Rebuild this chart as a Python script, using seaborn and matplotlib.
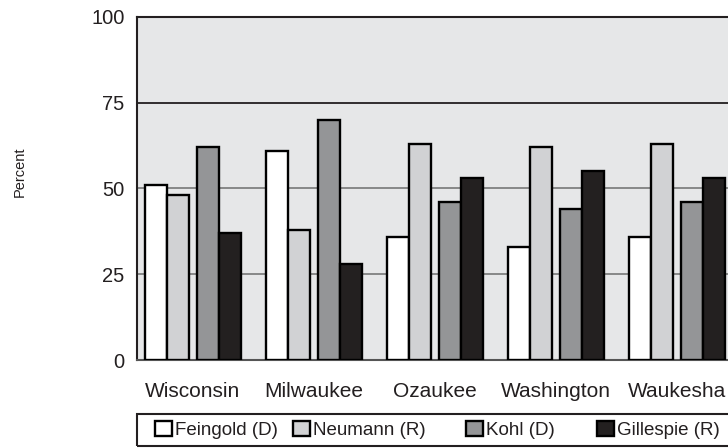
import seaborn as sns
import matplotlib.pyplot as plt
import pandas as pd
from matplotlib.patches import Rectangle

# values
counties = ["Wisconsin", "Milwaukee", "Ozaukee", "Washington", "Waukesha"]
candidates = ["Feingold (D)", "Neumann (R)", "Kohl (D)", "Gillespie (R)"]
feingold = [51, 61, 36, 33, 36]
neumann = [48, 38, 63, 62, 63]
kohl = [62, 70, 46, 44, 46]
gillespie = [37, 28, 53, 55, 53]
y_ticks = [0, 25, 50, 75, 100]

colors = {"Feingold (D)": "#ffffff", "Neumann (R)": "#d1d2d4",
          "Kohl (D)": "#939598", "Gillespie (R)": "#231f20"}

rows = []
for cand, vals in zip(candidates, [feingold, neumann, kohl, gillespie]):
    for county, v in zip(counties, vals):
        rows.append([county, cand, v])
df = pd.DataFrame(rows, columns=["County", "Candidate", "Percent"])

sns.set_style("white")
plt.rcParams["font.family"] = ["Liberation Sans", "DejaVu Sans"]

fig = plt.figure(figsize=(7.28, 4.48), dpi=100)
# axes runs a few pixels past the right edge, like the cropped original
ax = fig.add_axes([137 / 728, 88 / 448, 596 / 728, 343 / 448])
ax.set_facecolor("#e6e7e8")

sns.barplot(data=df, x="County", y="Percent", hue="Candidate",
            order=counties, hue_order=candidates, palette=colors,
            width=0.727, edgecolor="black", linewidth=1.7, legend=False,
            ax=ax, zorder=3)

# split each group into two pairs with a small gap
for i, cont in enumerate(ax.containers):
    shift = -0.033 if i < 2 else 0.033
    for bar in cont:
        bar.set_x(bar.get_x() + shift)

ax.set_xlim(-0.463, 4.463)
ax.set_ylim(0, 100)
ax.set_yticks(y_ticks)
for y in [25, 50]:
    ax.axhline(y, color="#808080", lw=1.3, zorder=1)
ax.axhline(75, color="#231f20", lw=1.3, zorder=1)

for side in ["top", "left", "bottom"]:
    ax.spines[side].set_visible(True)
    ax.spines[side].set_color("#231f20")
    ax.spines[side].set_linewidth(1.5)
ax.spines["bottom"].set_color("#555555")
ax.spines["right"].set_visible(False)

ax.tick_params(axis="y", length=0, pad=9, labelsize=14.5, colors="#231f20")
ax.tick_params(axis="x", length=0, pad=16, labelsize=15, colors="#231f20")
ax.set_xlabel("")
ax.set_ylabel("Percent", fontsize=10.5, color="#231f20")
ax.yaxis.set_label_coords(-0.185, 0.55)

# legend: one box with four entries placed like the original
fig.patches.append(Rectangle((137 / 728, 2 / 448), 600 / 728, 32 / 448,
                             transform=fig.transFigure, fill=False,
                             edgecolor="#231f20", linewidth=1.5))
entry_x = [155, 293, 466, 597]
for cont, label, x in zip(ax.containers, candidates, entry_x):
    leg = fig.legend([cont], [label], loc="center left",
                     bbox_to_anchor=(x / 728, 18 / 448), fontsize=13.5,
                     frameon=False, handlelength=0.9, handleheight=0.9,
                     handletextpad=0.15, borderpad=0, borderaxespad=0)
    for t in leg.get_texts():
        t.set_color("#231f20")

plt.savefig("out.png", dpi=100)
plt.close()
